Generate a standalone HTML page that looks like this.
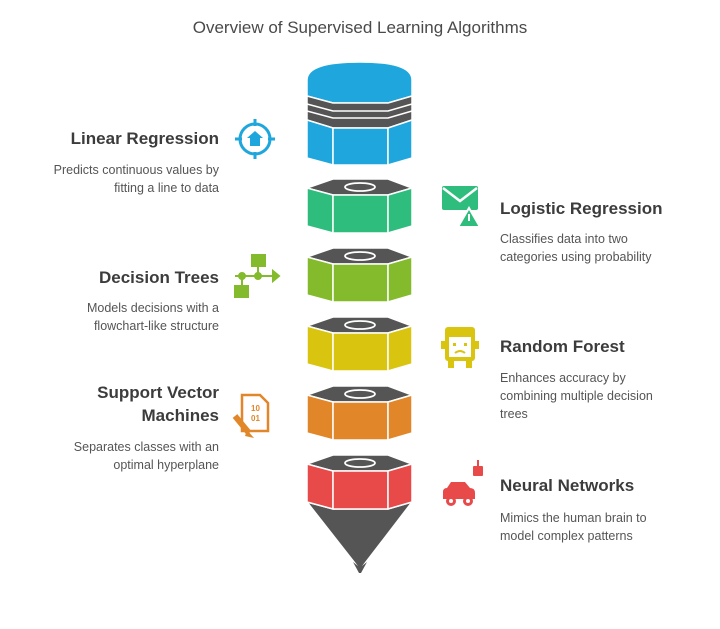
<!DOCTYPE html>
<html><head><meta charset="utf-8"><style>
body{margin:0;background:#fff;}
svg text{font-family:"Liberation Sans",sans-serif;}
.h{font-size:17px;font-weight:bold;fill:#3c3c3c;}
.d{font-size:12.5px;fill:#555;}
</style></head><body>
<svg width="720" height="624" viewBox="0 0 720 624" xmlns="http://www.w3.org/2000/svg">
<rect width="720" height="624" fill="#fff"/>
<text x="360" y="33" text-anchor="middle" font-size="17" fill="#4a4a4a">Overview of Supervised Learning Algorithms</text>

<defs>
<g id="seg" stroke="#fff" stroke-width="1.5" stroke-linejoin="round">
  <polygon points="307,9 333,0 388,0 412,9 388,16 333,16" fill="#555"/>
  <polygon points="307,9 333,16 333,54 307,47"/>
  <polygon points="333,16 388,16 388,54 333,54"/>
  <polygon points="388,16 412,9 412,47 388,54"/>
  <ellipse cx="360" cy="8" rx="15" ry="4" fill="none" stroke-width="1.8"/>
</g>
</defs>

<!-- blue top -->
<g stroke="#fff" stroke-width="1.5" stroke-linejoin="round">
  <path d="M307,96 L307,80 Q307,62 360,62 Q412,62 412,80 L412,96 L388,103 L333,103 Z" fill="#1ea6dd"/>
  <polygon points="307,96 333,103 388,103 412,96 412,120 388,128 333,128 307,120" fill="#555"/>
  <polyline points="307,104 333,111 388,111 412,104" fill="none"/>
  <polyline points="307,111 333,118 388,118 412,111" fill="none"/>
  <polygon points="307,120 333,128 333,165 307,158" fill="#1ea6dd"/>
  <polygon points="333,128 388,128 388,165 333,165" fill="#1ea6dd"/>
  <polygon points="388,128 412,120 412,158 388,165" fill="#1ea6dd"/>
</g>

<use href="#seg" transform="translate(0,179)" fill="#2fbd7e"/>
<use href="#seg" transform="translate(0,248)" fill="#84bb2c"/>
<use href="#seg" transform="translate(0,317)" fill="#d9c510"/>
<use href="#seg" transform="translate(0,386)" fill="#e2862a"/>
<polygon points="307,502 333,509 388,509 412,502 366,562 360,570 354,562" fill="#555" stroke="#fff" stroke-width="1.5"/>
<polygon points="353,562 358,566 360,563 362,566 367,562 361,573 359,573" fill="#555"/>
<use href="#seg" transform="translate(0,455)" fill="#e84a4a"/>

<!-- left texts -->
<text class="h" x="219" y="144" text-anchor="end">Linear Regression</text>
<text class="d" x="219" y="174" text-anchor="end">Predicts continuous values by</text>
<text class="d" x="219" y="192" text-anchor="end">fitting a line to data</text>

<text class="h" x="219" y="283" text-anchor="end">Decision Trees</text>
<text class="d" x="219" y="312" text-anchor="end">Models decisions with a</text>
<text class="d" x="219" y="330" text-anchor="end">flowchart-like structure</text>

<text class="h" x="219" y="398" text-anchor="end">Support Vector</text>
<text class="h" x="219" y="421" text-anchor="end">Machines</text>
<text class="d" x="219" y="451" text-anchor="end">Separates classes with an</text>
<text class="d" x="219" y="469" text-anchor="end">optimal hyperplane</text>

<!-- right texts -->
<text class="h" x="500" y="214">Logistic Regression</text>
<text class="d" x="500" y="243">Classifies data into two</text>
<text class="d" x="500" y="261">categories using probability</text>

<text class="h" x="500" y="352">Random Forest</text>
<text class="d" x="500" y="382">Enhances accuracy by</text>
<text class="d" x="500" y="400">combining multiple decision</text>
<text class="d" x="500" y="418">trees</text>

<text class="h" x="500" y="491">Neural Networks</text>
<text class="d" x="500" y="522">Mimics the human brain to</text>
<text class="d" x="500" y="540">model complex patterns</text>

<!-- icons -->
<g stroke="#1ea6dd" fill="none" stroke-width="3">
  <circle cx="255" cy="139" r="15"/>
  <line x1="255" y1="119" x2="255" y2="126"/><line x1="255" y1="152" x2="255" y2="159"/>
  <line x1="235" y1="139" x2="242" y2="139"/><line x1="268" y1="139" x2="275" y2="139"/>
</g>
<polygon points="255,131 263,138 260,138 260,146 250,146 250,138 247,138" fill="#1ea6dd"/>

<g fill="#84bb2c" stroke="#84bb2c" stroke-width="2">
  <rect x="252" y="255" width="13" height="11"/>
  <rect x="235" y="286" width="13" height="11"/>
  <line x1="235" y1="276" x2="275" y2="276"/>
  <line x1="258" y1="266" x2="258" y2="276"/>
  <line x1="242" y1="276" x2="242" y2="286"/>
  <polygon points="273,271 279,276 273,281"/>
  <circle cx="242" cy="276" r="3"/><circle cx="258" cy="276" r="3"/>
</g>

<g stroke="#e2862a" fill="none" stroke-width="2.5">
  <path d="M242,395 h18 l8,8 v28 h-26 z"/>
</g>
<text x="251" y="411" font-size="8" fill="#e2862a" font-weight="bold">10</text>
<text x="251" y="421" font-size="8" fill="#e2862a" font-weight="bold">01</text>
<line x1="235" y1="416" x2="249" y2="433" stroke="#e2862a" stroke-width="6"/>
<polygon points="247,430 254,438 245,436" fill="#e2862a"/>

<!-- right icons -->
<rect x="442" y="186" width="36" height="24" rx="2" fill="#2fbd7e"/>
<polyline points="443,188 460,201 477,188" fill="none" stroke="#fff" stroke-width="2.5"/>
<polygon points="469,208 480,227 458,227" fill="#2fbd7e" stroke="#fff" stroke-width="2"/>
<line x1="469" y1="214" x2="469" y2="221" stroke="#fff" stroke-width="2"/>

<g fill="#d9c510">
  <rect x="445" y="327" width="30" height="34" rx="3"/>
  <rect x="441" y="341" width="5" height="8"/><rect x="474" y="341" width="5" height="8"/>
  <rect x="448" y="361" width="6" height="7"/><rect x="466" y="361" width="6" height="7"/>
</g>
<rect x="449" y="337" width="22" height="20" fill="#fff"/>
<rect x="453" y="343" width="3" height="3" fill="#d9c510"/><rect x="464" y="343" width="3" height="3" fill="#d9c510"/>
<path d="M455,353 q5,-4 10,0" stroke="#d9c510" stroke-width="2" fill="none"/>

<g fill="#e84a4a">
  <rect x="473" y="466" width="10" height="10" rx="1"/>
  <rect x="477" y="460" width="2" height="7"/>
  <path d="M443,499 v-7 q0,-4 4,-4 l4,-6 h14 l5,6 q5,0 5,5 v6 z"/>
  <circle cx="451" cy="501" r="5"/><circle cx="468" cy="501" r="5"/>
</g>
<circle cx="451" cy="501" r="2" fill="#fff"/><circle cx="468" cy="501" r="2" fill="#fff"/>
</svg>
</body></html>
